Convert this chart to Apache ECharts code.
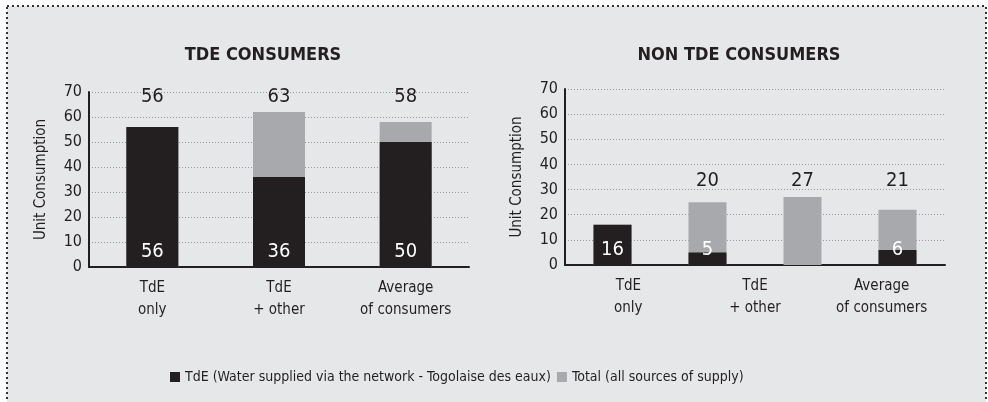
<!DOCTYPE html>
<html>
<head>
<meta charset="utf-8">
<script src="https://cdn.jsdelivr.net/npm/echarts@6/dist/echarts.min.js"></script>
<style>
  html, body { margin: 0; padding: 0; background: #fff; }
  #chart { width: 988px; height: 402px; }
</style>
</head>
<body>
<div id="chart"></div>
<script>
const FONT = "'Liberation Sans Narrow', 'DejaVu Sans Condensed', sans-serif"

// TDE consumers
const catsA = ['TdE\nonly', 'TdE\n+ other', 'Average\nof consumers']
const tdeA = [56, 36, 50]
const totalA = [56, 62, 58]
const topLabelsA = [56, 63, 58]

// Non TDE consumers (4 bars under 3 labels)
const barsB = ['b1', 'b2', 'b3', 'b4']
const catsB = ['TdE\nonly', 'TdE\n+ other', 'Average\nof consumers']
const tdeB = [16, 5, null, 6]
const totalB = [16, 25, 27, 22]
const topLabelsB = [null, 20, 27, 21]

const BLACK = '#231f20'
const GRAY = '#a7a9ac'
const TEXT = '#231f20'

const yAxisBase = (grid) => ({
  type: 'value',
  gridIndex: grid,
  min: 0,
  max: 70,
  interval: 10,
  name: 'Unit Consumption',
  nameLocation: 'middle',
  nameRotate: 90,
  nameGap: 40,
  nameTextStyle: { fontFamily: FONT, fontSize: 15, color: TEXT },
  axisLine: { show: true, lineStyle: { color: BLACK, width: 2 } },
  axisTick: { show: false },
  axisLabel: { fontFamily: FONT, fontSize: 16, color: TEXT, margin: 7 },
  splitLine: { lineStyle: { color: '#999', type: [1, 2] } }
})

const catLabel = { fontFamily: FONT, fontSize: 15, color: TEXT, margin: 10, lineHeight: 22, interval: 0 }

const topLabelSeries = (xi, yi, vals, y) => ({
  type: 'scatter',
  xAxisIndex: xi,
  yAxisIndex: yi,
  symbolSize: 0,
  silent: true,
  itemStyle: { opacity: 1 },
  data: vals.map((v, i) => v == null ? null : { value: [i, y], name: String(v) }),
  label: {
    show: true,
    position: 'inside',
    formatter: p => p.name,
    fontFamily: FONT,
    fontSize: 20,
    color: TEXT
  }
})

const insideLabel = {
  show: true,
  position: 'insideBottom',
  distance: 5,
  fontFamily: FONT,
  fontSize: 20,
  color: '#fff'
}

const chart = echarts.init(document.getElementById('chart'))
chart.setOption({
  animation: false,
  graphic: [{
    type: 'rect',
    z: -10,
    shape: { x: 7, y: 6, width: 979, height: 440 },
    style: { fill: '#e6e7e8', stroke: '#333', lineWidth: 2, lineDash: [2, 3] }
  }],
  title: [
    { text: 'TDE CONSUMERS', left: 258, top: 41, textAlign: 'center', textStyle: { fontFamily: FONT, fontSize: 18, fontWeight: 'bold', color: BLACK } },
    { text: 'NON TDE CONSUMERS', left: 734, top: 41, textAlign: 'center', textStyle: { fontFamily: FONT, fontSize: 18, fontWeight: 'bold', color: BLACK } }
  ],
  legend: {
    left: 165,
    top: 365,
    itemWidth: 10,
    itemHeight: 10,
    itemGap: 6,
    textStyle: { fontFamily: FONT, fontSize: 14, color: TEXT },
    data: [
      { name: 'TdE (Water supplied via the network - Togolaise des eaux)', icon: 'rect' },
      { name: 'Total (all sources of supply)', icon: 'rect' }
    ]
  },
  grid: [
    { left: 89, right: 519, top: 92, bottom: 135 },
    { left: 565, right: 43, top: 89, bottom: 137 }
  ],
  xAxis: [
    {
      type: 'category', gridIndex: 0, data: catsA,
      axisLine: { lineStyle: { color: BLACK, width: 2 } },
      axisTick: { show: false },
      axisLabel: catLabel
    },
    {
      type: 'category', gridIndex: 1, data: barsB,
      axisLine: { lineStyle: { color: BLACK, width: 2 } },
      axisTick: { show: false },
      axisLabel: { show: false }
    },
    {
      type: 'category', gridIndex: 1, data: catsB, position: 'bottom',
      axisLine: { show: false },
      axisTick: { show: false },
      axisLabel: catLabel
    }
  ],
  yAxis: [yAxisBase(0), yAxisBase(1)],
  series: [
    {
      name: 'Total (all sources of supply)',
      type: 'bar', xAxisIndex: 0, yAxisIndex: 0,
      data: totalA, barWidth: 52, itemStyle: { color: GRAY }
    },
    {
      name: 'TdE (Water supplied via the network - Togolaise des eaux)',
      type: 'bar', xAxisIndex: 0, yAxisIndex: 0,
      data: tdeA, barWidth: 52, barGap: '-100%', itemStyle: { color: BLACK },
      label: insideLabel
    },
    topLabelSeries(0, 0, topLabelsA, 68),
    {
      name: 'Total (all sources of supply)',
      type: 'bar', xAxisIndex: 1, yAxisIndex: 1,
      data: totalB, barWidth: 38, itemStyle: { color: GRAY }
    },
    {
      name: 'TdE (Water supplied via the network - Togolaise des eaux)',
      type: 'bar', xAxisIndex: 1, yAxisIndex: 1,
      data: tdeB, barWidth: 38, barGap: '-100%', itemStyle: { color: BLACK },
      label: insideLabel
    },
    topLabelSeries(1, 1, topLabelsB, 33.5)
  ]
})
</script>
</body>
</html>
